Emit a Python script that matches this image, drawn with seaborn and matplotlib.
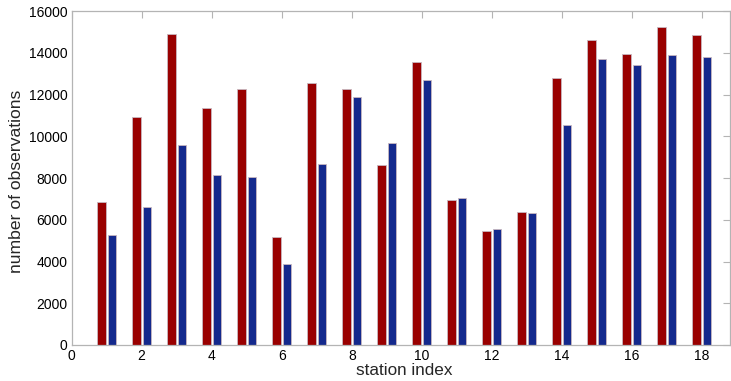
import matplotlib
matplotlib.use("Agg")
import matplotlib.pyplot as plt
import seaborn as sns
import pandas as pd

stations = list(range(1, 19))
series_a = [6860, 10900, 14880, 11340, 12250, 5190, 12550, 12250, 8640, 13570,
            6930, 5460, 6390, 12770, 14600, 13940, 15230, 14850]
series_b = [5270, 6610, 9590, 8160, 8040, 3880, 8660, 11900, 9660, 12680,
            7030, 5540, 6310, 10520, 13700, 13410, 13910, 13810]
series_names = ["A", "B"]
colors = ["#990000", "#14298c"]
x_ticks = list(range(0, 19, 2))
y_ticks = list(range(0, 16001, 2000))

df = pd.DataFrame({
    "station": stations * 2,
    "count": series_a + series_b,
    "series": [series_names[0]] * len(stations) + [series_names[1]] * len(stations),
})

sns.set_style("white")
plt.rcParams["font.family"] = ["Liberation Sans", "DejaVu Sans"]

fig = plt.figure(figsize=(7.31, 3.81), dpi=100)
ax = fig.add_axes([0.098, 0.0945, 0.9005, 0.8765])

sns.barplot(data=df, x="station", y="count", hue="series", palette=colors,
            native_scale=True, width=0.6, gap=0.2, dodge=True,
            edgecolor="#c8b8c0", linewidth=0.6, saturation=1, errorbar=None,
            legend=False, ax=ax)

ax.set_xlim(0, 18.8)
ax.set_ylim(0, 16000)
ax.set_xticks(x_ticks)
ax.set_yticks(y_ticks)
ax.set_xticklabels([str(t) for t in x_ticks], fontsize=10)
ax.set_yticklabels([str(t) for t in y_ticks], fontsize=10)
ax.set_xlabel("station index", fontsize=12.3)
ax.set_ylabel("number of observations", fontsize=12.6)
ax.xaxis.set_label_coords(0.506, -0.053)
ax.yaxis.set_label_coords(-0.072, 0.49)

for s in ax.spines.values():
    s.set_color("#b4b4b4")
    s.set_linewidth(0.9)
ax.tick_params(axis="both", direction="in", color="#b4b4b4", length=5,
               width=0.8, top=True, right=True, labelcolor="black", pad=3)

fig.savefig("out.png", dpi=100)
